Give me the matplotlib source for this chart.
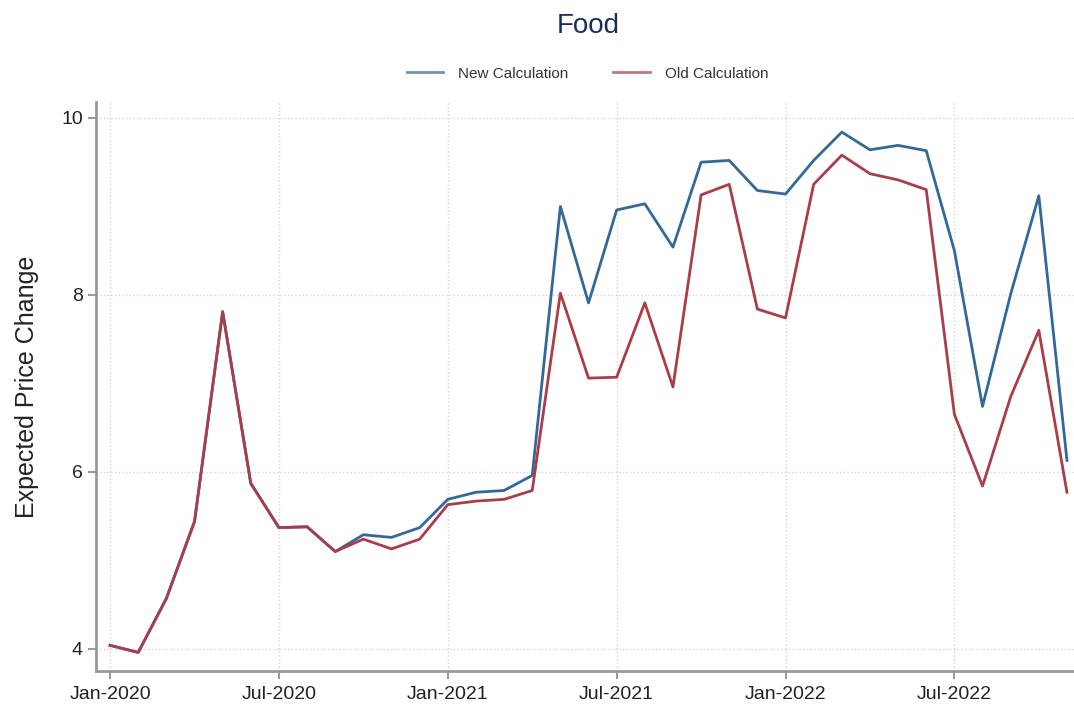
import numpy as np
import matplotlib
matplotlib.use('Agg')
import matplotlib.pyplot as plt

# monthly survey, Jan-2020 .. Nov-2022
months = np.arange(35)
tick_pos = [0, 6, 12, 18, 24, 30]
tick_labels = ['Jan-2020', 'Jul-2020', 'Jan-2021', 'Jul-2021', 'Jan-2022', 'Jul-2022']

new_calc = [4.04, 3.96, 4.57, 5.44, 7.81, 5.87, 5.37, 5.38, 5.10, 5.29,
            5.26, 5.37, 5.69, 5.77, 5.79, 5.96, 9.00, 7.91, 8.96, 9.03,
            8.54, 9.50, 9.52, 9.18, 9.14, 9.52, 9.84, 9.64, 9.69, 9.63,
            8.50, 6.74, 8.01, 9.12, 6.13]
old_calc = [4.04, 3.96, 4.57, 5.44, 7.81, 5.87, 5.37, 5.38, 5.10, 5.24,
            5.13, 5.24, 5.63, 5.67, 5.69, 5.79, 8.02, 7.06, 7.07, 7.91,
            6.96, 9.13, 9.25, 7.84, 7.74, 9.25, 9.58, 9.37, 9.30, 9.19,
            6.65, 5.84, 6.85, 7.60, 5.77]

plt.rcParams['font.family'] = ['Liberation Sans', 'DejaVu Sans']

fig = plt.figure(figsize=(10.74, 7.07), dpi=100)
ax = fig.add_axes([0.0894, 0.0509, 0.9106, 0.8048])

ax.plot(months, new_calc, color='#33699a', lw=2, label='New Calculation')
ax.plot(months, old_calc, color='#ab3d48', lw=2, label='Old Calculation')

ax.set_xlim(-0.5, 34.25)
ax.set_ylim(3.75, 10.18)
ax.set_xticks(tick_pos)
ax.set_xticklabels(tick_labels)
ax.set_yticks([4, 6, 8, 10])

ax.grid(True, linestyle=':', color='#d4d4d4', lw=1)
for side in ['top', 'right']:
    ax.spines[side].set_visible(False)
for side in ['left', 'bottom']:
    ax.spines[side].set_color('#9a9a9a')
    ax.spines[side].set_linewidth(2)
ax.tick_params(colors='#9a9a9a', width=1.5, length=6, labelsize=14,
               labelcolor='#222222')
ax.tick_params(axis='x', pad=5)

ax.set_ylabel('Expected Price Change', fontsize=18, color='#222222', labelpad=16)
fig.text(0.548, 0.963, 'Food', ha='center', va='center', fontsize=20,
         color='#1c2c5c')
leg = fig.legend(loc='center', bbox_to_anchor=(0.547, 0.896), ncol=2,
                 frameon=False, fontsize=11, handlelength=2.4,
                 columnspacing=2.9, handletextpad=1.0)
for line in leg.get_lines():
    line.set_alpha(0.7)
for t in leg.get_texts():
    t.set_color('#333333')

plt.savefig('out.png')
